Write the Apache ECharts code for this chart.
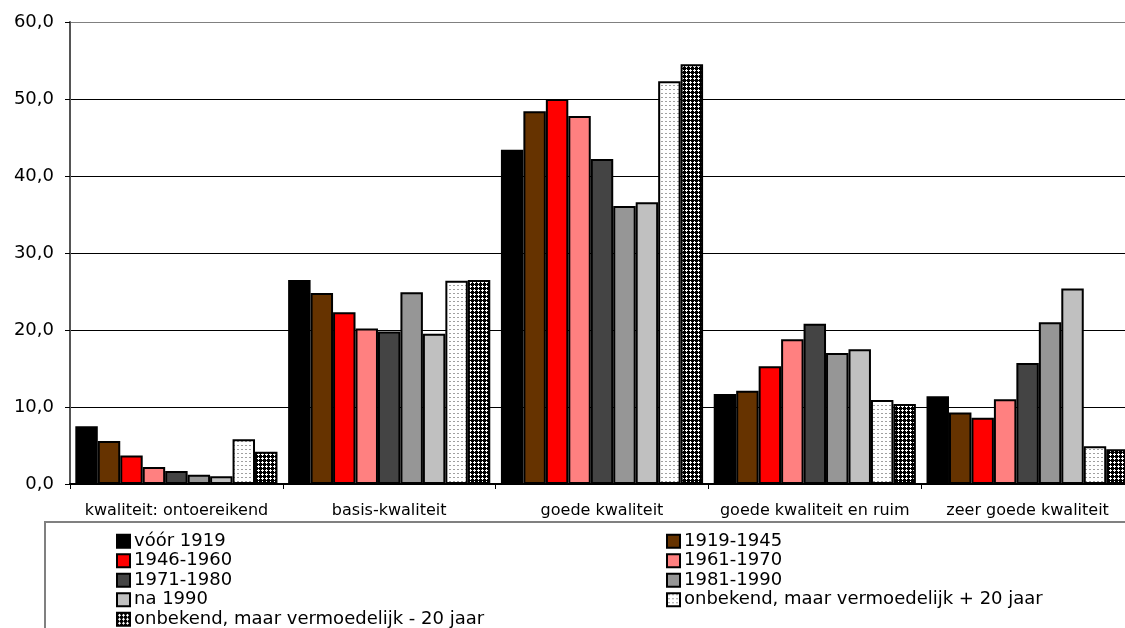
<!DOCTYPE html>
<html>
<head>
<meta charset="utf-8">
<script src="https://cdn.jsdelivr.net/npm/echarts@6/dist/echarts.min.js"></script>
<style>
  html, body { margin: 0; padding: 0; overflow: hidden; background: #fff; }
  #chart { width: 1140px; height: 628px; }
</style>
</head>
<body>
<div id="chart"></div>
<script>
  // categorieën en waarden per bouwperiode
  const categories = ['kwaliteit: ontoereikend', 'basis-kwaliteit', 'goede kwaliteit', 'goede kwaliteit en ruim', 'zeer goede kwaliteit']
  const seriesNames = ['vóór 1919', '1919-1945', '1946-1960', '1961-1970', '1971-1980', '1981-1990', 'na 1990',
    'onbekend, maar vermoedelijk + 20 jaar', 'onbekend, maar vermoedelijk - 20 jaar']
  const voor1919 = [7.5, 26.5, 43.4, 11.7, 11.4]
  const p1919_1945 = [5.6, 24.8, 48.4, 12.1, 9.3]
  const p1946_1960 = [3.7, 22.3, 50.0, 15.3, 8.6]
  const p1961_1970 = [2.2, 20.2, 47.8, 18.8, 11.0]
  const p1971_1980 = [1.7, 19.8, 42.2, 20.8, 15.7]
  const p1981_1990 = [1.2, 24.9, 36.1, 17.0, 21.0]
  const na1990 = [1.0, 19.5, 36.6, 17.5, 25.4]
  const onbekendPlus20 = [5.8, 26.4, 52.3, 10.9, 4.9]
  const onbekendMin20 = [4.2, 26.5, 54.5, 10.4, 4.5]
  const yTicks = [0, 10, 20, 30, 40, 50, 60]

  const values = [voor1919, p1919_1945, p1946_1960, p1961_1970, p1971_1980, p1981_1990, na1990, onbekendPlus20, onbekendMin20]

  function makeDotted() {
    const c = document.createElement('canvas')
    c.width = 4; c.height = 4
    const ctx = c.getContext('2d')
    ctx.fillStyle = '#fff'
    ctx.fillRect(0, 0, 4, 4)
    ctx.fillStyle = '#a0a0a0'
    ctx.fillRect(1, 1, 2, 1)
    return c
  }
  function makeDense() {
    const c = document.createElement('canvas')
    c.width = 4; c.height = 4
    const ctx = c.getContext('2d')
    ctx.fillStyle = '#000'
    ctx.fillRect(0, 0, 4, 4)
    ctx.fillStyle = '#fff'
    ctx.fillRect(2, 1, 1, 3)
    ctx.fillRect(1, 2, 3, 1)
    return c
  }

  const colors = ['#000000', '#663300', '#ff0000', '#ff8080', '#444444', '#969696', '#c0c0c0',
    { image: makeDotted(), repeat: 'repeat' }, { image: makeDense(), repeat: 'repeat' }]

  const fmt = v => v.toFixed(1).replace('.', ',')

  const myChart = echarts.init(document.getElementById('chart'))

  const legendCommon = {
    orient: 'vertical',
    top: 527,
    height: 160,
    icon: 'rect',
    itemWidth: 13,
    itemHeight: 13,
    itemGap: 1,
    selectedMode: false,
    textStyle: { fontFamily: 'DejaVu Sans', fontSize: 18, color: '#000', lineHeight: 18.5, padding: [0, 0, 0, -1] },
    itemStyle: { borderColor: '#000', borderWidth: 2 }
  }

  const option = {
    animation: false,
    textStyle: { fontFamily: 'DejaVu Sans' },
    grid: { left: 70, right: 6, top: 22, bottom: 144 },
    graphic: [{
      type: 'rect',
      shape: { x: 45, y: 522, width: 1100, height: 200 },
      style: { fill: 'none', stroke: '#808080', lineWidth: 2 },
      z: -1
    }],
    legend: [
      Object.assign({ left: 111, data: seriesNames.filter((n, i) => i % 2 === 0) }, legendCommon),
      Object.assign({ left: 661, data: seriesNames.filter((n, i) => i % 2 === 1) }, legendCommon)
    ],
    xAxis: {
      type: 'category',
      data: categories,
      axisLine: { lineStyle: { color: '#000', width: 2 } },
      axisTick: { show: true, length: 5, lineStyle: { color: '#000' } },
      axisLabel: { color: '#000', fontSize: 16, margin: 19, fontFamily: 'DejaVu Sans', interval: 0 }
    },
    yAxis: {
      type: 'value',
      min: yTicks[0],
      max: yTicks[yTicks.length - 1],
      interval: 10,
      axisLine: { show: true, lineStyle: { color: '#555', width: 2 } },
      axisTick: { show: true, length: 5, lineStyle: { color: '#000' } },
      axisLabel: { color: '#000', fontSize: 18, margin: 16, fontFamily: 'DejaVu Sans', formatter: fmt },
      splitLine: { lineStyle: { color: ['#000', '#000', '#000', '#000', '#000', '#000', '#808080'], width: 1 } }
    },
    series: seriesNames.map((name, i) => ({
      name: name,
      type: 'bar',
      data: values[i],
      barGap: '0%',
      barCategoryGap: '5%',
      itemStyle: { color: colors[i], borderColor: '#000', borderWidth: 2 }
    }))
  }
  myChart.setOption(option)
</script>
</body>
</html>
